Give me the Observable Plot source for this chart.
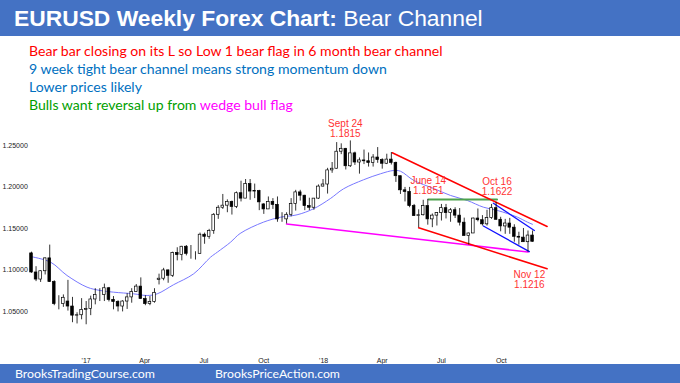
<!DOCTYPE html>
<html><head><meta charset="utf-8">
<script src="https://cdn.jsdelivr.net/npm/d3@7"></script>
<script src="https://cdn.jsdelivr.net/npm/@observablehq/plot@0.6"></script>
<style>
html,body{margin:0;padding:0;background:#fff;}
body{width:680px;height:383px;overflow:hidden;position:relative;font-family:"Liberation Sans",Arial,sans-serif;}
#hdr{position:absolute;left:0;top:0;width:680px;height:36px;background:#4472C4;}
#title{position:absolute;left:14px;top:0;line-height:36px;height:36px;font-size:21px;color:#fff;white-space:nowrap;}
#title b{font-weight:bold;}
#notes{position:absolute;left:29px;top:41px;font-family:Lato,"Open Sans",sans-serif;}
#notes div{height:18px;line-height:18px;white-space:nowrap;}
#notes span.m{display:inline-block;}
#chart{position:absolute;left:0;top:113px;width:680px;height:251px;}
#ftr{position:absolute;left:0;top:364px;width:680px;height:19px;background:#4472C4;color:#fff;font-family:Lato,"Open Sans",sans-serif;}
#ftr span{position:absolute;top:0;line-height:19px;white-space:nowrap;font-size:14px;}
</style>
</head><body>
<div id="hdr"><span id="title"><b>EURUSD Weekly Forex Chart:</b> Bear Channel</span></div>
<div id="notes">
  <div><span class="m" id="n1" style="color:#FF0000">Bear bar closing on its L so Low 1 bear flag in 6 month bear channel</span></div>
  <div><span class="m" style="color:#0070C0">9 week tight bear channel means strong momentum down</span></div>
  <div><span class="m" style="color:#0070C0">Lower prices likely</span></div>
  <div><span class="m"><span style="color:#00A000">Bulls want reversal up from </span><span style="color:#FF00FF">wedge bull flag</span></span></div>
</div>
<div id="chart"></div>
<div id="ftr"><span id="f1" style="left:15px">BrooksTradingCourse.com</span><span id="f2" style="left:215px">BrooksPriceAction.com</span></div>
<script>
// ---- weekly EURUSD candles, first week starting 2016-10-09 ----
const firstWeek = "2016-10-09";
const open = [
1.1200,1.0970,1.0885,1.0985,1.1140,1.0855,1.0590,1.0590,1.0620,1.0560,1.0450,1.0455,
1.0520,1.0530,1.0645,1.0700,1.0700,1.0780,1.0640,1.0615,1.0560,1.0620,1.0670,1.0735,
1.0800,1.0650,1.0590,1.0615,1.0880,1.0895,1.0995,1.0930,1.1205,1.1180,1.1280,1.1195,
1.1195,1.1195,1.1425,1.1400,1.1470,1.1665,1.1750,1.1775,1.1820,1.1760,1.1925,1.1860,
1.2035,1.1945,1.1950,1.1790,1.1730,1.1820,1.1785,1.1610,1.1610,1.1665,1.1795,1.1935,
1.1895,1.1770,1.1750,1.1860,1.2005,1.2030,1.2200,1.2220,1.2425,1.2460,1.2250,1.2405,
1.2295,1.2320,1.2310,1.2290,1.2355,1.2325,1.2280,1.2330,1.2290,1.2130,1.1960,1.1940,
1.1770,1.1650,1.1660,1.1770,1.1610,1.1655,1.1685,1.1745,1.1685,1.1720,1.1655,1.1570,
1.1410,1.1440,1.1620,1.1600,1.1550,1.1625,1.1745,1.1605,1.1525,1.1560,1.1510,1.1400,
1.1390,1.1335,1.1415];
const high = [
1.1215,1.1040,1.0990,1.1145,1.1300,1.0870,1.0690,1.0700,1.0875,1.0670,1.0485,1.0655,
1.0620,1.0685,1.0775,1.0775,1.0830,1.0790,1.0680,1.0630,1.0630,1.0715,1.0775,1.0825,
1.0905,1.0690,1.0680,1.0775,1.0950,1.1020,1.1000,1.1215,1.1268,1.1285,1.1295,1.1295,
1.1220,1.1445,1.1445,1.1490,1.1680,1.1775,1.1910,1.1845,1.1830,1.1940,1.2070,1.2090,
1.2090,1.2035,1.1960,1.1800,1.1880,1.1860,1.1880,1.1690,1.1690,1.1860,1.1960,1.1960,
1.1900,1.1865,1.1860,1.2025,1.2090,1.2225,1.2295,1.2535,1.2520,1.2465,1.2555,1.2420,
1.2350,1.2445,1.2410,1.2390,1.2475,1.2340,1.2395,1.2415,1.2300,1.2130,1.1995,1.1995,
1.1790,1.1725,1.1840,1.1852,1.1675,1.1690,1.1790,1.1790,1.1740,1.1750,1.1740,1.1625,
1.1445,1.1625,1.1735,1.1655,1.1720,1.1790,1.1815,1.1635,1.1610,1.1622,1.1545,1.1455,
1.1500,1.1470,1.1470];
const low = [
1.0960,1.0860,1.0850,1.0940,1.0850,1.0570,1.0520,1.0550,1.0505,1.0365,1.0350,1.0400,
1.0340,1.0450,1.0580,1.0620,1.0620,1.0615,1.0520,1.0495,1.0495,1.0525,1.0600,1.0730,
1.0650,1.0570,1.0570,1.0600,1.0820,1.0870,1.0840,1.0910,1.1110,1.1110,1.1170,1.1130,
1.1120,1.1190,1.1310,1.1370,1.1430,1.1610,1.1730,1.1690,1.1662,1.1740,1.1820,1.1860,
1.1840,1.1860,1.1715,1.1670,1.1730,1.1730,1.1575,1.1575,1.1555,1.1640,1.1710,1.1830,
1.1715,1.1715,1.1720,1.1850,1.2000,1.1915,1.2165,1.2215,1.2390,1.2205,1.2235,1.2260,
1.2155,1.2270,1.2240,1.2240,1.2285,1.2215,1.2270,1.2265,1.2055,1.1910,1.1820,1.1750,
1.1645,1.1510,1.1650,1.1540,1.1510,1.1530,1.1590,1.1615,1.1575,1.1620,1.1530,1.1410,
1.1301,1.1440,1.1580,1.1530,1.1530,1.1610,1.1600,1.1460,1.1430,1.1430,1.1335,1.1300,
1.1335,1.1216,1.1335];
const close = [
1.0970,1.0885,1.0985,1.1140,1.0855,1.0590,1.0590,1.0665,1.0560,1.0450,1.0455,1.0520,
1.0530,1.0645,1.0700,1.0700,1.0780,1.0640,1.0615,1.0560,1.0620,1.0670,1.0735,1.0800,
1.0650,1.0590,1.0615,1.0725,1.0895,1.0995,1.0930,1.1205,1.1180,1.1280,1.1195,1.1195,
1.1195,1.1425,1.1400,1.1470,1.1665,1.1750,1.1775,1.1820,1.1760,1.1925,1.1860,1.2035,
1.1945,1.1950,1.1815,1.1730,1.1820,1.1785,1.1610,1.1610,1.1665,1.1795,1.1935,1.1895,
1.1770,1.1750,1.1860,1.2005,1.2030,1.2200,1.2220,1.2425,1.2460,1.2250,1.2405,1.2295,
1.2320,1.2310,1.2290,1.2355,1.2325,1.2280,1.2330,1.2290,1.2130,1.1960,1.1940,1.1770,
1.1650,1.1660,1.1770,1.1610,1.1655,1.1685,1.1745,1.1685,1.1720,1.1655,1.1570,1.1410,
1.1440,1.1620,1.1600,1.1550,1.1625,1.1745,1.1605,1.1525,1.1560,1.1510,1.1400,1.1390,
1.1335,1.1415,1.1340];

// ---- 20 week moving average (week index, value) ----
const maWeek  = [0,4.2,7.8,12.2,15.1,18,22.4,25.4,27.6,31.2,35.6,39.3,40.8,43.7,45.8,50.9,54.7,58.3,61.9,65.6,68.5,72.9,76.6,79.5,81,83.9,88.3,92,95.7,99.2,102.3,104.5,106.7,108.9,110];
const maValue = [1.1160,1.1094,1.0934,1.0793,1.0753,1.0733,1.0713,1.0693,1.0713,1.0823,1.0954,1.1154,1.1215,1.1335,1.1440,1.1576,1.1636,1.1665,1.1737,1.1860,1.1978,1.2087,1.2159,1.2199,1.2190,1.2080,1.1982,1.1898,1.1837,1.1757,1.1717,1.1680,1.1636,1.1576,1.1550];

// ---- drawn trend lines (week index, price) ----
const redUpper   = [[79.2,1.2412],[113.2,1.1524]];
const redLower   = [[85.0,1.1508],[113.2,1.1014]];
const greenLine  = [[87.2,1.1849],[102.2,1.1849]];
const wedgeLine  = [[56,1.1555],[96,1.1301],[109,1.1216]];
const blueUpper  = [[101.4,1.1805],[110.4,1.1476]];
const blueLower  = [[99.2,1.1530],[109.3,1.1222]];

// ---- annotations (week index, price, text) ----
const noteWeek  = [68.9, 87.1, 102.2, 109.3];
const notePrice = [1.2696, 1.2018, 1.2002, 1.0883];
const noteText  = ["Sept 24\n1.1815", "June 14\n1.1851", "Oct 16\n1.1622", "Nov 12\n1.1216"];

// ---- axes ----
const yTicks = [1.05, 1.10, 1.15, 1.20, 1.25];
const xTickDates = ["2017-01-01","2017-04-01","2017-07-01","2017-10-01","2018-01-01","2018-04-01","2018-07-01","2018-10-01"];
const xTickLabels = ["'17","Apr","Jul","Oct","'18","Apr","Jul","Oct"];

const t0 = new Date(firstWeek + "T00:00:00Z").getTime();
const WEEK = 7 * 864e5;
const at = i => new Date(t0 + i * WEEK);
const pxPerWeek = 4.555, firstX = 31, W = 680;

const candles = open.map((o, i) => ({date: at(i), o, h: high[i], l: low[i], c: close[i]}));
const ma = maWeek.map((w, i) => ({date: at(w), v: maValue[i]}));
const seg = pts => pts.map(([w, p]) => ({date: at(w), v: p}));
const notes = noteWeek.map((w, i) => ({date: at(w), v: notePrice[i], t: noteText[i]}));
const xTicks = xTickDates.map(s => new Date(s + "T00:00:00Z"));
const labelOf = new Map(xTicks.map((d, i) => [d.getTime(), xTickLabels[i]]));
const halfBody = 0.29 * WEEK;
const fmtY = d3.format(".5f");

const chart = Plot.plot({
  width: W, height: 251,
  marginTop: 0, marginBottom: 11.5, marginLeft: 0, marginRight: 0,
  x: {type: "utc", domain: [at(-firstX / pxPerWeek), at((W - firstX) / pxPerWeek)]},
  y: {domain: [1.0, 1.28855]},
  style: {fontFamily: "'Liberation Sans', Arial, sans-serif", background: "transparent", overflow: "visible"},
  marks: [
    Plot.text(yTicks, {y: d => d, text: d => fmtY(d), frameAnchor: "left", textAnchor: "start", dx: 2, fontSize: 7, fill: "#222"}),
    Plot.axisX(xTicks, {anchor: "bottom", tickSize: 0, tickPadding: 5, tickFormat: d => labelOf.get(d.getTime()), fontSize: 7, color: "#222"}),
    Plot.line(ma, {x: "date", y: "v", stroke: "#7878FF", strokeWidth: 1, curve: "catmull-rom"}),
    Plot.line(seg(wedgeLine), {x: "date", y: "v", stroke: "#FF00FF", strokeWidth: 1.6}),
    Plot.line(seg(greenLine), {x: "date", y: "v", stroke: "#4CA24C", strokeWidth: 2}),
    Plot.line(seg(redUpper), {x: "date", y: "v", stroke: "#FF0000", strokeWidth: 1.5}),
    Plot.line(seg(redLower), {x: "date", y: "v", stroke: "#FF0000", strokeWidth: 1.5}),
    Plot.line(seg(blueUpper), {x: "date", y: "v", stroke: "#1010FF", strokeWidth: 1.3}),
    Plot.line(seg(blueLower), {x: "date", y: "v", stroke: "#1010FF", strokeWidth: 1.3}),
    Plot.ruleX(candles, {x: "date", y1: "l", y2: "h", stroke: "#000", strokeWidth: 0.8}),
    Plot.rect(candles, {
      x1: d => new Date(d.date.getTime() - halfBody),
      x2: d => new Date(d.date.getTime() + halfBody),
      y1: "o", y2: "c",
      fill: d => d.c >= d.o ? "#fff" : "#000",
      stroke: "#000", strokeWidth: 0.7
    }),
    Plot.text(notes, {x: "date", y: "v", text: "t", fill: "#FF3333", fontSize: 10, lineHeight: 1.0})
  ]
});
document.getElementById("chart").appendChild(chart);

// fit text widths to the reference layout
function fit(el, target) {
  const w = el.getBoundingClientRect().width;
  const fs = parseFloat(getComputedStyle(el).fontSize);
  if (w > 0) el.style.fontSize = (fs * target / w) + "px";
  return parseFloat(el.style.fontSize);
}
document.getElementById("title").style.display = "inline-block";
fit(document.getElementById("title"), 469);
const n1 = document.getElementById("n1");
n1.style.fontSize = "15px";
const fs = fit(n1, 414);
document.querySelectorAll("#notes span.m").forEach(s => s.style.fontSize = fs + "px");
fit(document.getElementById("f1"), 140);
fit(document.getElementById("f2"), 125);
</script>
</body></html>
